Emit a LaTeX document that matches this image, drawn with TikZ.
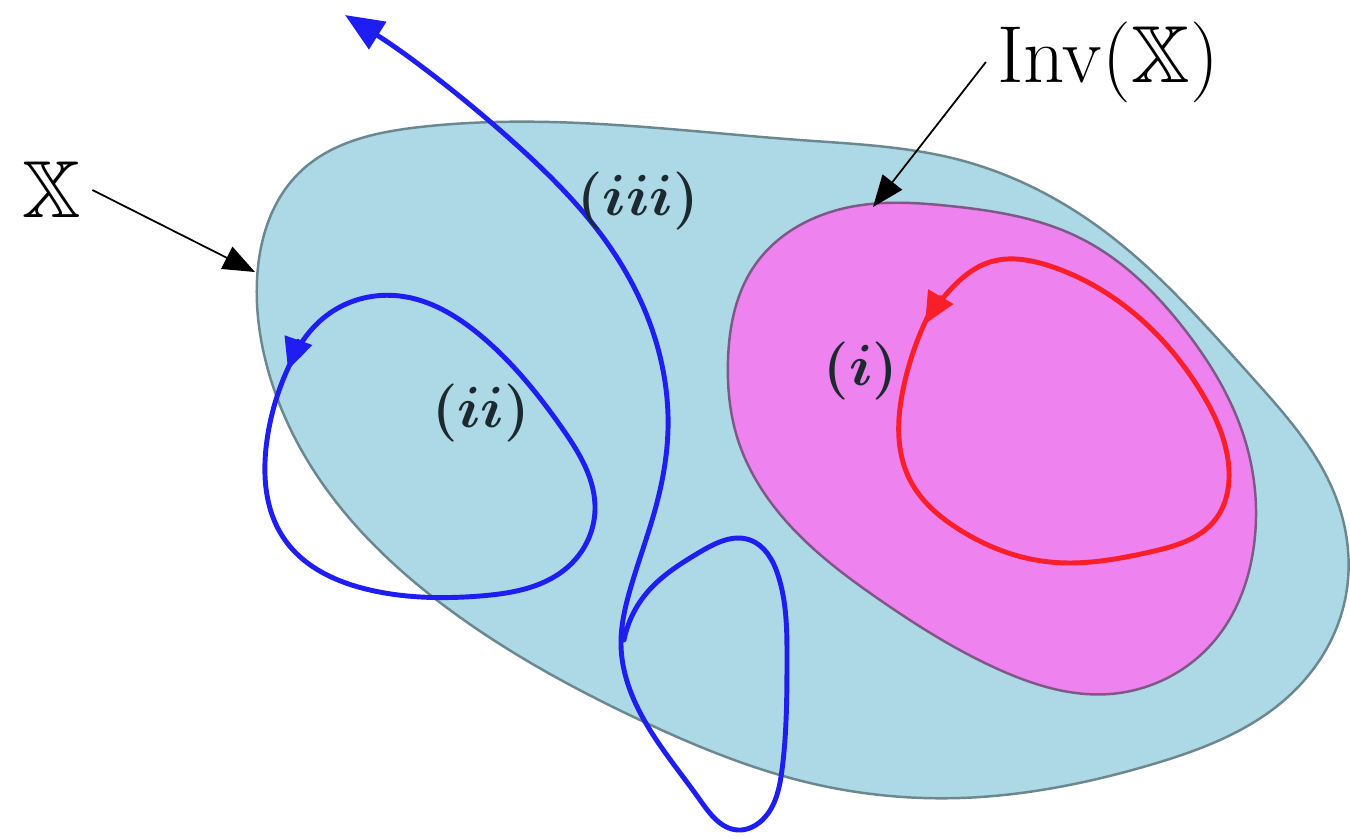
\RequirePackage{fix-cm}
\documentclass[tikz,border=0pt]{standalone}
\usepackage{amssymb}
\usetikzlibrary{arrows.meta, hobby}
\definecolor{setFill}{HTML}{ADD8E6}
\definecolor{setLine}{HTML}{6B8790}
\definecolor{invFill}{HTML}{EE82EE}
\definecolor{invLine}{HTML}{7D5A86}
\definecolor{orbBlue}{HTML}{1E1EF2}
\definecolor{orbRed}{HTML}{FA1E28}
\definecolor{labelText}{HTML}{1C2A30}

\begin{document}
\begin{tikzpicture}[
  x=0.01cm, y=-0.01cm,
  region/.style   ={line width=0.7pt, line join=round},
  setx/.style     ={region, fill=setFill, draw=setLine},
  inv/.style      ={region, fill=invFill, draw=invLine},
  orbit/.style    ={line width=1.4pt, line join=round, line cap=round},
  loophead/.style ={-{Triangle[length=9pt,width=8pt]}},
  pointer/.style  ={-{Triangle[length=9pt,width=7pt]}, draw=black, line width=0.5pt},
  biglabel/.style ={text=black, font=\fontsize{23}{28}\selectfont, inner sep=3pt},
  caselabel/.style={text=labelText, font=\fontsize{16.5}{20}\selectfont\boldmath, inner sep=2pt},
]
\useasboundingbox (0,0) rectangle (1350,838);

% ----- The set X -----
\draw[setx] plot[closed hobby] coordinates {
  (257,280) (300,172) (420,127) (600,124) (800,140) (960,160) (1100,228)
  (1250,375) (1335,495) (1345,600) (1290,695) (1150,765) (960,798)
  (810,783) (640,720) (450,610) (320,480) (268,370)};

% ----- The invariant subset Inv(X) -----
\draw[inv] plot[closed hobby] coordinates {
  (728,360) (755,265) (850,207) (950,206) (1080,238) (1185,330)
  (1245,440) (1254,545) (1215,640) (1110,694) (1000,670) (880,600)
  (785,520) (738,440)};

% ----- Trajectories -----
% (i) closed orbit inside Inv(X)
\draw[orbit, orbRed, loophead] plot[hobby] coordinates {
  (929,314) (904,385) (910,480) (960,530) (1050,562) (1150,552)
  (1215,520) (1228,460) (1200,390) (1130,310) (1050,266) (990,262)
  (950,290) (925,324)};

% (ii) periodic orbit leaving X
\draw[orbit, orbBlue, loophead] plot[hobby] coordinates {
  (293,358) (267,440) (285,540) (370,590) (480,596) (570,565) (595,510)
  (562,428) (480,335) (400,296) (330,313) (300,345) (288,370)};

% (iii) escaping trajectory
\draw[orbit, orbBlue, -{Triangle[length=11pt,width=9pt]}] plot[hobby] coordinates {
  (624,640) (645,595) (700,552) (750,540) (778,575) (787,660) (782,770)
  (760,822) (738,830) (700,800) (650,730) (621,645) (630,590) (655,510)
  (668,430) (657,345) (610,247) (520,148) (345,15)};

% ----- Labels -----
\node[biglabel] (LBLX) at (52,190) {$\mathbb{X}$};
\node[biglabel] (LBLINV) at (1108,62) {$\mathrm{Inv}(\mathbb{X})$};
\node[caselabel] (LBLI) at (861,371) {$(i)$};
\node[caselabel] (LBLII) at (481,413) {$(ii)$};
\node[caselabel] (LBLIII) at (638,201) {$(iii)$};

\coordinate (xTip) at (255,272);
\coordinate (invTip) at (873,207);
\draw[pointer] (LBLX.east) -- (xTip);
\draw[pointer] (LBLINV.west) -- (invTip);

\end{tikzpicture}
\end{document}
